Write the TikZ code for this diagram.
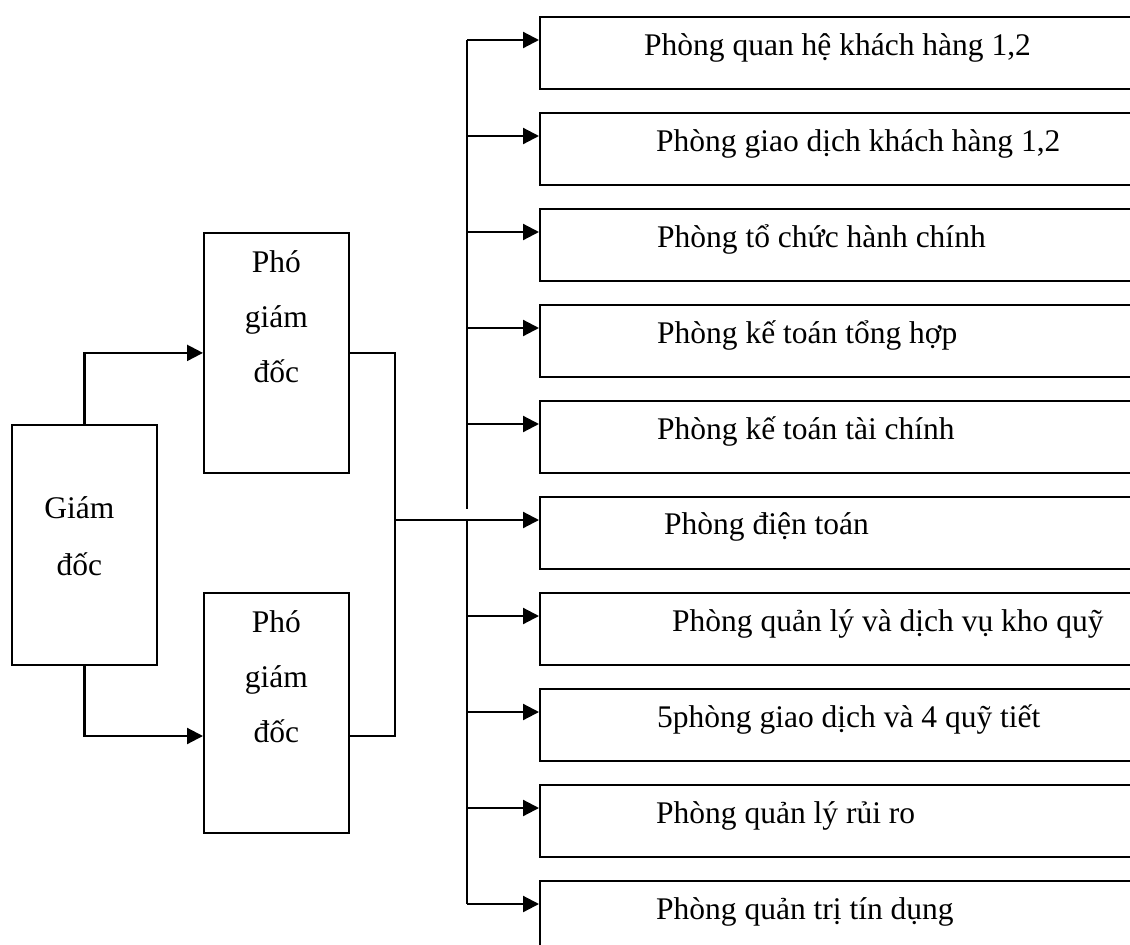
\documentclass[tikz,border=0pt]{standalone}
\usepackage{fontspec}
\setmainfont{Liberation Serif}
\usetikzlibrary{arrows.meta,calc}
\begin{document}
\begin{tikzpicture}[x=1pt,y=-1pt,
  box/.style={draw, line width=1.8pt, inner sep=0pt, anchor=north west},
  txt/.style={inner sep=0pt, font=\fontsize{31.5}{55}\selectfont},
  link/.style={line width=1.4pt},
  feed/.style={line width=2.2pt, -{Triangle[length=16pt,width=16pt]}}]
\useasboundingbox (0,0) rectangle (1130,945);
\clip (0,0) rectangle (1130,945);

% director and deputies
\node[box, minimum width=145, minimum height=240] (gd) at (11,424) {};
\node[box, minimum width=145, minimum height=240] (p1) at (203,232) {};
\node[box, minimum width=145, minimum height=240] (p2) at (203,592) {};
% multi-line texts are anchored on the baseline of their last line
\node[txt, align=center, anchor=base, font=\fontsize{31.5}{57}\selectfont]
  at ($(gd.north)+(-5,151)$) {Giám\\đốc};
\node[txt, align=center, anchor=base] at ($(p1.north)+(0,150)$) {Phó\\giám\\đốc};
\node[txt, align=center, anchor=base] at ($(p2.north)+(0,150)$) {Phó\\giám\\đốc};

% departments
\foreach \k/\dx/\dy/\t in {
  1/105/39/{Phòng quan hệ khách hàng 1,2},
  2/117/39/{Phòng giao dịch khách hàng 1,2},
  3/118/39/{Phòng tổ chức hành chính},
  4/118/39/{Phòng kế toán tổng hợp},
  5/118/39/{Phòng kế toán tài chính},
  6/125/38/{Phòng điện toán},
  7/133/39/{Phòng quản lý và dịch vụ kho quỹ},
  8/118/39/{5phòng giao dịch và 4 quỹ tiết},
  9/117/39/{Phòng quản lý rủi ro},
  10/117/39/{Phòng quản trị tín dụng}}{
  \node[box, minimum width=650, minimum height=72] (d\k) at (539,{16+96*(\k-1)}) {};
  \node[txt, anchor=base west] at ($(d\k.north west)+(\dx,\dy)$) {\t};
  \coordinate (a\k) at ($(d\k.north west)+(0,24)$);
  \coordinate (s\k) at ($(a\k)+(-72,0)$);
  \draw[feed] (s\k) -- (a\k);
}

% main distribution line
\coordinate (gap) at ($(s6)+(0,-11)$);
\draw[line width=2.2pt] (s1) -- (gap);
\draw[line width=2.2pt] (s6) -- (s10);

% director to deputies
\coordinate (p2in) at ($(p2.north west)+(0,144)$);
\coordinate (p2out) at ($(p2.north east)+(0,144)$);
\draw[feed] (gd.north) |- (p1.west);
\draw[feed] (gd.south) |- (p2in);

% deputies to the department bus
\coordinate (j) at ($(s6)+(-72,0)$);
\draw[link] (p1.east) -| (j);
\draw[link] (p2out) -| (j);
\draw[link] (j) -- (s6);
\end{tikzpicture}
\end{document}
